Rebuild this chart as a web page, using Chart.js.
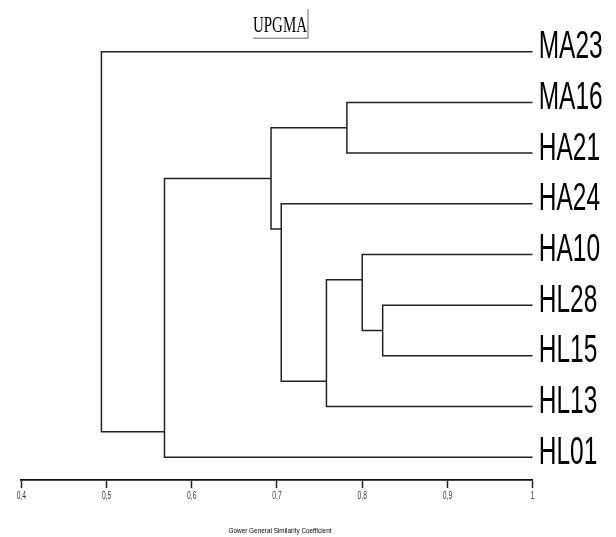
<!DOCTYPE html>
<html>
<head>
<meta charset="utf-8">
<script src="https://cdn.jsdelivr.net/npm/chart.js@4.4.1/dist/chart.umd.min.js"></script>
<style>
  html, body { margin: 0; padding: 0; background: #fff; }
  #wrap { width: 616px; height: 537px; }
</style>
</head>
<body>
<div id="wrap"><canvas id="dendro"></canvas></div>
<script>
// leaves, top to bottom
const leaves = ['MA23', 'MA16', 'HA21', 'HA24', 'HA10', 'HL28', 'HL15', 'HL13', 'HL01'];

// merges: similarity, the two children (L = leaf row, n = earlier merge), row where the stem leaves
const mergeSim = [0.824, 0.782, 0.800, 0.758, 0.705, 0.693, 0.568, 0.494];
const mergeA   = ['L5', 'L1', 'L4', 'n2', 'L3', 'n1', 'n5', 'L0'];
const mergeB   = ['L6', 'L2', 'n0', 'L7', 'n3', 'n4', 'L8', 'n6'];
const mergeRow = [5.5, 1.5, 4.5, 6.5, 3.5, 2.5, 7.5, 0.5];

const xTicks = [0.4, 0.5, 0.6, 0.7, 0.8, 0.9, 1];

function nodePos(ref) {
    const k = parseInt(ref.slice(1), 10);
    if (ref[0] === 'L') return { x: 1, y: k };
    return { x: mergeSim[k], y: mergeRow[k] };
}

const datasets = mergeSim.map((s, i) => {
    const a = nodePos(mergeA[i]);
    const b = nodePos(mergeB[i]);
    return {
        data: [
            { x: a.x, y: a.y },
            { x: s, y: a.y },
            { x: s, y: b.y },
            { x: b.x, y: b.y }
        ],
        showLine: true,
        borderColor: '#222',
        borderWidth: 1.5,
        pointRadius: 0,
        tension: 0
    };
});

function squeezed(ctx, text, x, y, font, width, align) {
    ctx.save();
    ctx.font = font;
    const w = ctx.measureText(text).width;
    ctx.translate(x, y);
    ctx.scale(width / w, 1);
    ctx.textAlign = align;
    ctx.textBaseline = 'alphabetic';
    ctx.fillStyle = '#000';
    ctx.fillText(text, 0, 0);
    ctx.restore();
}

const textPlugin = {
    id: 'dendroText',
    afterDraw(chart) {
        const ctx = chart.ctx;
        const xs = chart.scales.x;
        const ys = chart.scales.y;
        const area = chart.chartArea;

        // leaf labels
        leaves.forEach((name, i) => {
            const y = ys.getPixelForValue(i);
            ctx.save();
            ctx.font = '38px "Liberation Sans", Arial, sans-serif';
            ctx.translate(area.right + 6, y + 6.6);
            ctx.scale(0.645, 1);
            ctx.fillStyle = '#000';
            ctx.fillText(name, 0, 0);
            ctx.restore();
        });

        // tick labels
        xTicks.forEach(v => {
            const x = xs.getPixelForValue(v);
            ctx.save();
            ctx.font = '10px "Liberation Sans", Arial, sans-serif';
            ctx.translate(x, area.bottom + 18.5);
            ctx.scale(0.67, 1);
            ctx.textAlign = 'center';
            ctx.fillStyle = '#333';
            ctx.fillText(String(v).replace('.', ','), 0, 0);
            ctx.restore();
        });

        // axis title
        squeezed(ctx, 'Gower General Similarity Coefficient', 280, 533,
            '8px "Liberation Sans", Arial, sans-serif', 103, 'center');

        // method label with its shadow box
        squeezed(ctx, 'UPGMA', 280, 32, '22.6px "Liberation Serif", "Times New Roman", serif', 54, 'center');
        ctx.save();
        ctx.strokeStyle = '#999';
        ctx.lineWidth = 1.5;
        ctx.beginPath();
        ctx.moveTo(308, 9);
        ctx.lineTo(308, 38.3);
        ctx.lineTo(253.3, 38.3);
        ctx.stroke();
        ctx.restore();
    }
};

new Chart(document.getElementById('dendro'), {
    type: 'scatter',
    data: { datasets: datasets },
    options: {
        responsive: true,
        maintainAspectRatio: false,
        animation: false,
        layout: { padding: { left: 21.3, right: 83.3, top: 0, bottom: 0 } },
        plugins: {
            legend: { display: false },
            tooltip: { enabled: false }
        },
        scales: {
            x: {
                type: 'linear',
                min: 0.4,
                max: 1,
                afterBuildTicks: s => { s.ticks = xTicks.map(v => ({ value: v })); },
                afterFit: s => { s.height = 57; },
                ticks: { display: false },
                grid: {
                    drawOnChartArea: false,
                    drawTicks: true,
                    tickLength: 8,
                    tickWidth: 1.5,
                    tickColor: '#222'
                },
                border: { display: true, color: '#111', width: 1.8 }
            },
            y: {
                type: 'linear',
                display: false,
                reverse: true,
                min: -1.02,
                max: 8.45
            }
        }
    },
    plugins: [textPlugin]
});
</script>
</body>
</html>
